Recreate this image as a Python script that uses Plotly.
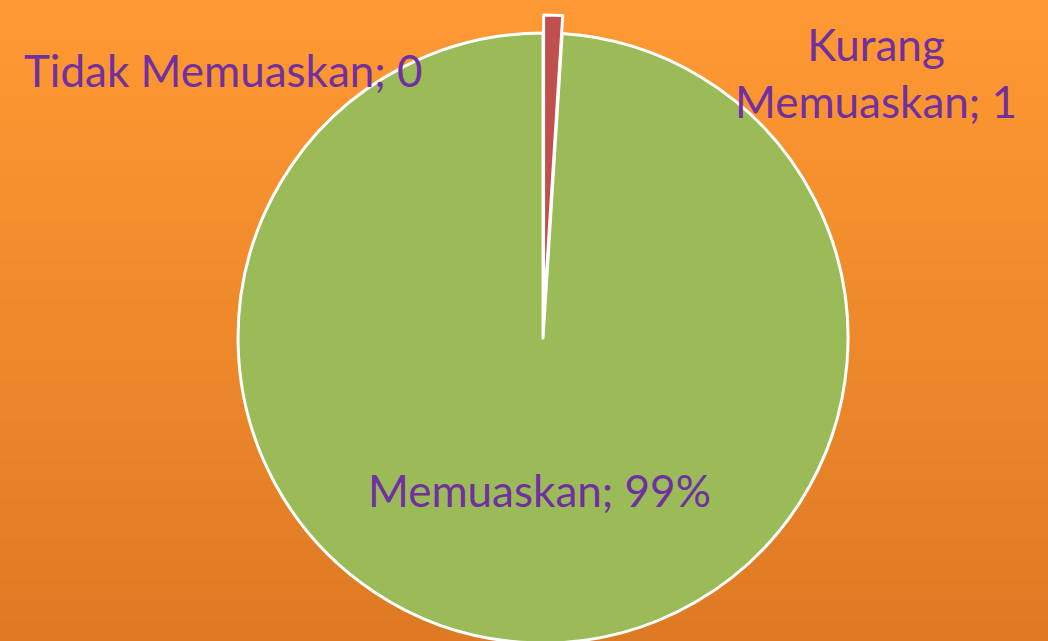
import plotly.graph_objects as go

# ---- data ----
categories = ["Tidak Memuaskan", "Kurang Memuaskan", "Memuaskan"]
values = [0, 1, 99]
label_texts = ["Tidak Memuaskan; 0", "Kurang<br>Memuaskan; 1", "Memuaskan; 99%"]

# ---- style ----
slice_colors = ["#4F81BD", "#C0504D", "#9BBB59"]
pulls = [0, 0.059, 0]
text_color = "#7030A0"
font_family = "Lato, Carlito, Calibri, sans-serif"

W, H = 1048, 661  # figure is a bit taller than the 641 window; bottom is clipped

fig = go.Figure()
fig.add_trace(go.Pie(
    labels=categories,
    values=values,
    sort=False,
    direction="clockwise",
    rotation=0,
    pull=pulls,
    marker=dict(colors=slice_colors, line=dict(color="white", width=3)),
    textinfo="none",
    hoverinfo="label+value+percent",
    showlegend=False,
    domain=dict(x=[0.0363, 1.0], y=[0.0, 0.9773]),
))

# background gradient (light orange top -> darker orange bottom)
top = (255, 153, 51)
bot = (222, 122, 36)
n = 64
y0v = (H - 641) / H
shapes = []
for i in range(n):
    t = i / (n - 1)
    c = tuple(round(top[k] + (bot[k] - top[k]) * t) for k in range(3))
    ya = 1 - (1 - y0v) * i / n
    yb = 1 - (1 - y0v) * (i + 1) / n
    if i == n - 1:
        yb = 0
    shapes.append(dict(type="rect", xref="paper", yref="paper", x0=0, x1=1,
                       y0=yb, y1=ya + 0.001, fillcolor="rgb(%d,%d,%d)" % c,
                       line=dict(width=0), layer="below"))

# label positions (paper coords)
label_pos = [(0.2137, 0.894), (0.836, 0.890), (0.515, 0.2587)]
annotations = []
for txt, (ax, ay) in zip(label_texts, label_pos):
    annotations.append(dict(text=txt, x=ax, y=ay, xref="paper", yref="paper",
                            xanchor="center", yanchor="middle", align="center",
                            showarrow=False,
                            font=dict(family=font_family, size=44, color=text_color)))

fig.update_layout(
    width=W, height=H, autosize=False,
    margin=dict(l=0, r=0, t=0, b=0),
    paper_bgcolor="rgb(222,122,36)",
    plot_bgcolor="rgba(0,0,0,0)",
    shapes=shapes,
    annotations=annotations,
)

fig.write_html("out.html",
               config={"displayModeBar": False},
               post_script="document.body.style.margin='0';document.body.style.overflow='hidden';")
